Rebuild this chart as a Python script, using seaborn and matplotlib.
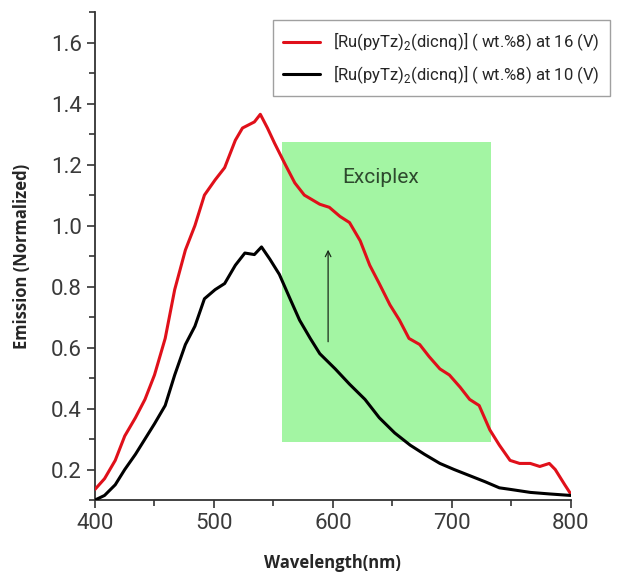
import matplotlib
matplotlib.use("Agg")
import matplotlib.pyplot as plt
import seaborn as sns
import numpy as np
import pandas as pd
from matplotlib.patches import Rectangle
from matplotlib.ticker import MultipleLocator

# emission spectra
wl_16v = [400, 408, 417, 425, 434, 442, 450, 459, 467, 476, 484, 492, 501, 509, 518,
          524, 534, 539, 545, 551, 560, 568, 576, 589, 597, 606, 614, 623, 631, 639,
          648, 656, 664, 673, 681, 690, 698, 707, 715, 723, 732, 740, 749, 757, 766,
          774, 782, 787, 795, 800]
em_16v = [0.135, 0.17, 0.23, 0.31, 0.37, 0.43, 0.51, 0.63, 0.79, 0.92, 1.00, 1.10, 1.15,
          1.19, 1.28, 1.32, 1.34, 1.365, 1.32, 1.27, 1.20, 1.14, 1.10, 1.07, 1.06, 1.03,
          1.01, 0.95, 0.87, 0.81, 0.74, 0.69, 0.63, 0.61, 0.57, 0.53, 0.51, 0.47, 0.43,
          0.41, 0.33, 0.28, 0.23, 0.22, 0.22, 0.21, 0.22, 0.20, 0.15, 0.12]

wl_10v = [400, 408, 417, 425, 434, 442, 450, 459, 467, 476, 484, 492, 501, 509, 518,
          526, 534, 540, 547, 555, 564, 572, 581, 589, 602, 614, 627, 639, 652, 665,
          677, 690, 702, 715, 728, 740, 749, 766, 782, 800]
em_10v = [0.10, 0.115, 0.15, 0.20, 0.25, 0.30, 0.35, 0.41, 0.51, 0.61, 0.67, 0.76, 0.79,
          0.81, 0.87, 0.91, 0.905, 0.93, 0.89, 0.84, 0.76, 0.69, 0.63, 0.58, 0.53, 0.48,
          0.43, 0.37, 0.32, 0.28, 0.25, 0.22, 0.20, 0.18, 0.16, 0.14, 0.135, 0.125, 0.12,
          0.115]

labels = [r"[Ru(pyTz)$_2$(dicnq)] ( wt.%8) at 16 (V)",
          r"[Ru(pyTz)$_2$(dicnq)] ( wt.%8) at 10 (V)"]

# exciplex region and arrow
exc_x = (557, 733)
exc_y = (0.29, 1.275)
arrow_x = 596
arrow_y = (0.61, 0.93)

df = pd.concat([
    pd.DataFrame({"wl": wl_16v, "em": em_16v, "series": labels[0]}),
    pd.DataFrame({"wl": wl_10v, "em": em_10v, "series": labels[1]}),
])

sns.set_style("ticks")
plt.rcParams["font.family"] = ["Roboto", "DejaVu Sans"]
plt.rcParams["mathtext.fontset"] = "custom"
plt.rcParams["mathtext.rm"] = "Roboto"

fig = plt.figure(figsize=(6.19, 5.79), dpi=100)
ax = fig.add_axes([0.1535, 0.1364, 0.7685, 0.8426])

ax.add_patch(Rectangle((exc_x[0], exc_y[0]), exc_x[1] - exc_x[0], exc_y[1] - exc_y[0],
                       facecolor="#a3f5a3", edgecolor="none", zorder=1))
ax.text(np.mean(exc_x) - 5, 1.157, "Exciplex", fontsize=15, color="#2e4a2e",
        ha="center", va="center", zorder=2)

sns.lineplot(data=df, x="wl", y="em", hue="series", sort=False,
             palette=["#e0101a", "#000000"], linewidth=2.2, ax=ax, zorder=3)

ax.annotate("", xy=(arrow_x, arrow_y[1]), xytext=(arrow_x, arrow_y[0]),
            arrowprops=dict(arrowstyle="->", color="#1a2a1a", lw=0.9), zorder=4)

ax.set_xlim(400, 800)
ax.set_ylim(0.1, 1.7)
ax.xaxis.set_major_locator(MultipleLocator(100))
ax.xaxis.set_minor_locator(MultipleLocator(50))
ax.yaxis.set_minor_locator(MultipleLocator(0.1))
ax.set_yticks([0.2, 0.4, 0.6, 0.8, 1.0, 1.2, 1.4, 1.6])
ax.tick_params(which="major", length=6, width=1.2, labelsize=16, colors="#333333",
               labelcolor="#3a3a3a")
ax.tick_params(which="minor", length=4, width=1.2, colors="#333333")
for s in ["left", "bottom"]:
    ax.spines[s].set_color("#333333")
    ax.spines[s].set_linewidth(1.3)
sns.despine(ax=ax)

ax.set_xlabel("Wavelength(nm)", fontsize=12, fontweight="bold",
              family=["Open Sans", "DejaVu Sans"], labelpad=14)
ax.set_ylabel("Emission (Normalized)", fontsize=12, fontweight="bold",
              family=["Open Sans", "DejaVu Sans"], labelpad=14)

leg = ax.legend(loc="upper right", bbox_to_anchor=(1.1, 1.0), fontsize=12, frameon=True,
                fancybox=False, edgecolor="#888888", handlelength=2.2, borderpad=0.6,
                labelspacing=0.6, title=None)
leg.get_frame().set_linewidth(1.0)

fig.savefig("out.png", dpi=100)
